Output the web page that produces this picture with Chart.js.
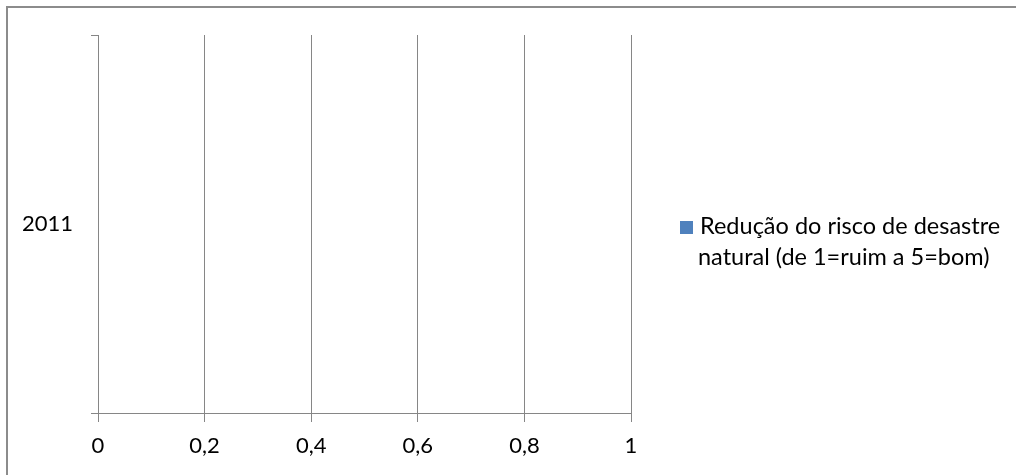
<!DOCTYPE html>
<html>
<head>
<meta charset="utf-8">
<script src="https://cdn.jsdelivr.net/npm/chart.js@4/dist/chart.umd.min.js"></script>
<style>
  html, body { margin: 0; padding: 0; background: #fff; }
  #wrap { width: 1016px; height: 475px; position: relative; }
</style>
</head>
<body>
<div id="wrap"><canvas id="c" width="1016" height="475"></canvas></div>
<script>
const categories = ['2011'];
const seriesValues = [null];
const seriesLabelLines = ['Redução do risco de desastre', 'natural (de 1=ruim a 5=bom)'];
const xTickValues = [0, 0.2, 0.4, 0.6, 0.8, 1];

const GRID = '#868686';

const frameAndLegend = {
  id: 'frameAndLegend',
  beforeDraw(chart) {
    const ctx = chart.ctx;
    ctx.save();
    ctx.strokeStyle = '#8c8c8c';
    ctx.lineWidth = 2;
    ctx.beginPath();
    ctx.moveTo(7, 480);
    ctx.lineTo(7, 7);
    ctx.lineTo(1020, 7);
    ctx.stroke();
    ctx.restore();
  },
  afterDraw(chart) {
    const ctx = chart.ctx;
    const ds = chart.data.datasets[0];
    ctx.save();
    ctx.fillStyle = ds.backgroundColor;
    ctx.fillRect(680, 221, 13, 13);
    ctx.fillStyle = '#000';
    ctx.font = '23.5px Lato';
    ctx.textBaseline = 'alphabetic';
    ctx.textAlign = 'left';
    const lines = ds.legendLines;
    lines.forEach((t, i) => {
      ctx.fillText(t, i === 0 ? 700 : 698, 234 + i * 31);
    });
    ctx.restore();
  }
};

Chart.defaults.font.family = 'Lato';
Chart.defaults.font.size = 22;
Chart.defaults.color = '#000';

new Chart(document.getElementById('c'), {
  type: 'bar',
  data: {
    labels: categories,
    datasets: [{
      label: seriesLabelLines.join(' '),
      legendLines: seriesLabelLines,
      data: seriesValues,
      backgroundColor: '#4F81BD'
    }]
  },
  options: {
    indexAxis: 'y',
    responsive: false,
    animation: false,
    devicePixelRatio: 1,
    layout: { padding: { top: 35, right: 385, left: 0, bottom: 0 } },
    plugins: {
      legend: { display: false },
      tooltip: { enabled: false }
    },
    scales: {
      x: {
        type: 'linear',
        min: 0,
        max: 1,
        afterBuildTicks(scale) {
          scale.ticks = xTickValues.map(v => ({ value: v }));
        },
        afterFit(scale) { scale.height = 62; },
        ticks: {
          padding: 11,
          color: '#000',
          callback: (v) => String(v).replace('.', ',')
        },
        grid: {
          color: GRID,
          lineWidth: 1,
          drawTicks: true,
          tickLength: 9,
          tickColor: GRID
        },
        border: { color: GRID, width: 1 }
      },
      y: {
        type: 'category',
        afterFit(scale) { scale.width = 98; },
        ticks: { padding: 18, color: '#000' },
        grid: {
          offset: true,
          drawOnChartArea: false,
          drawTicks: true,
          tickLength: 7,
          color: GRID,
          tickColor: GRID
        },
        border: { color: GRID, width: 1 }
      }
    }
  },
  plugins: [frameAndLegend]
});
</script>
</body>
</html>
